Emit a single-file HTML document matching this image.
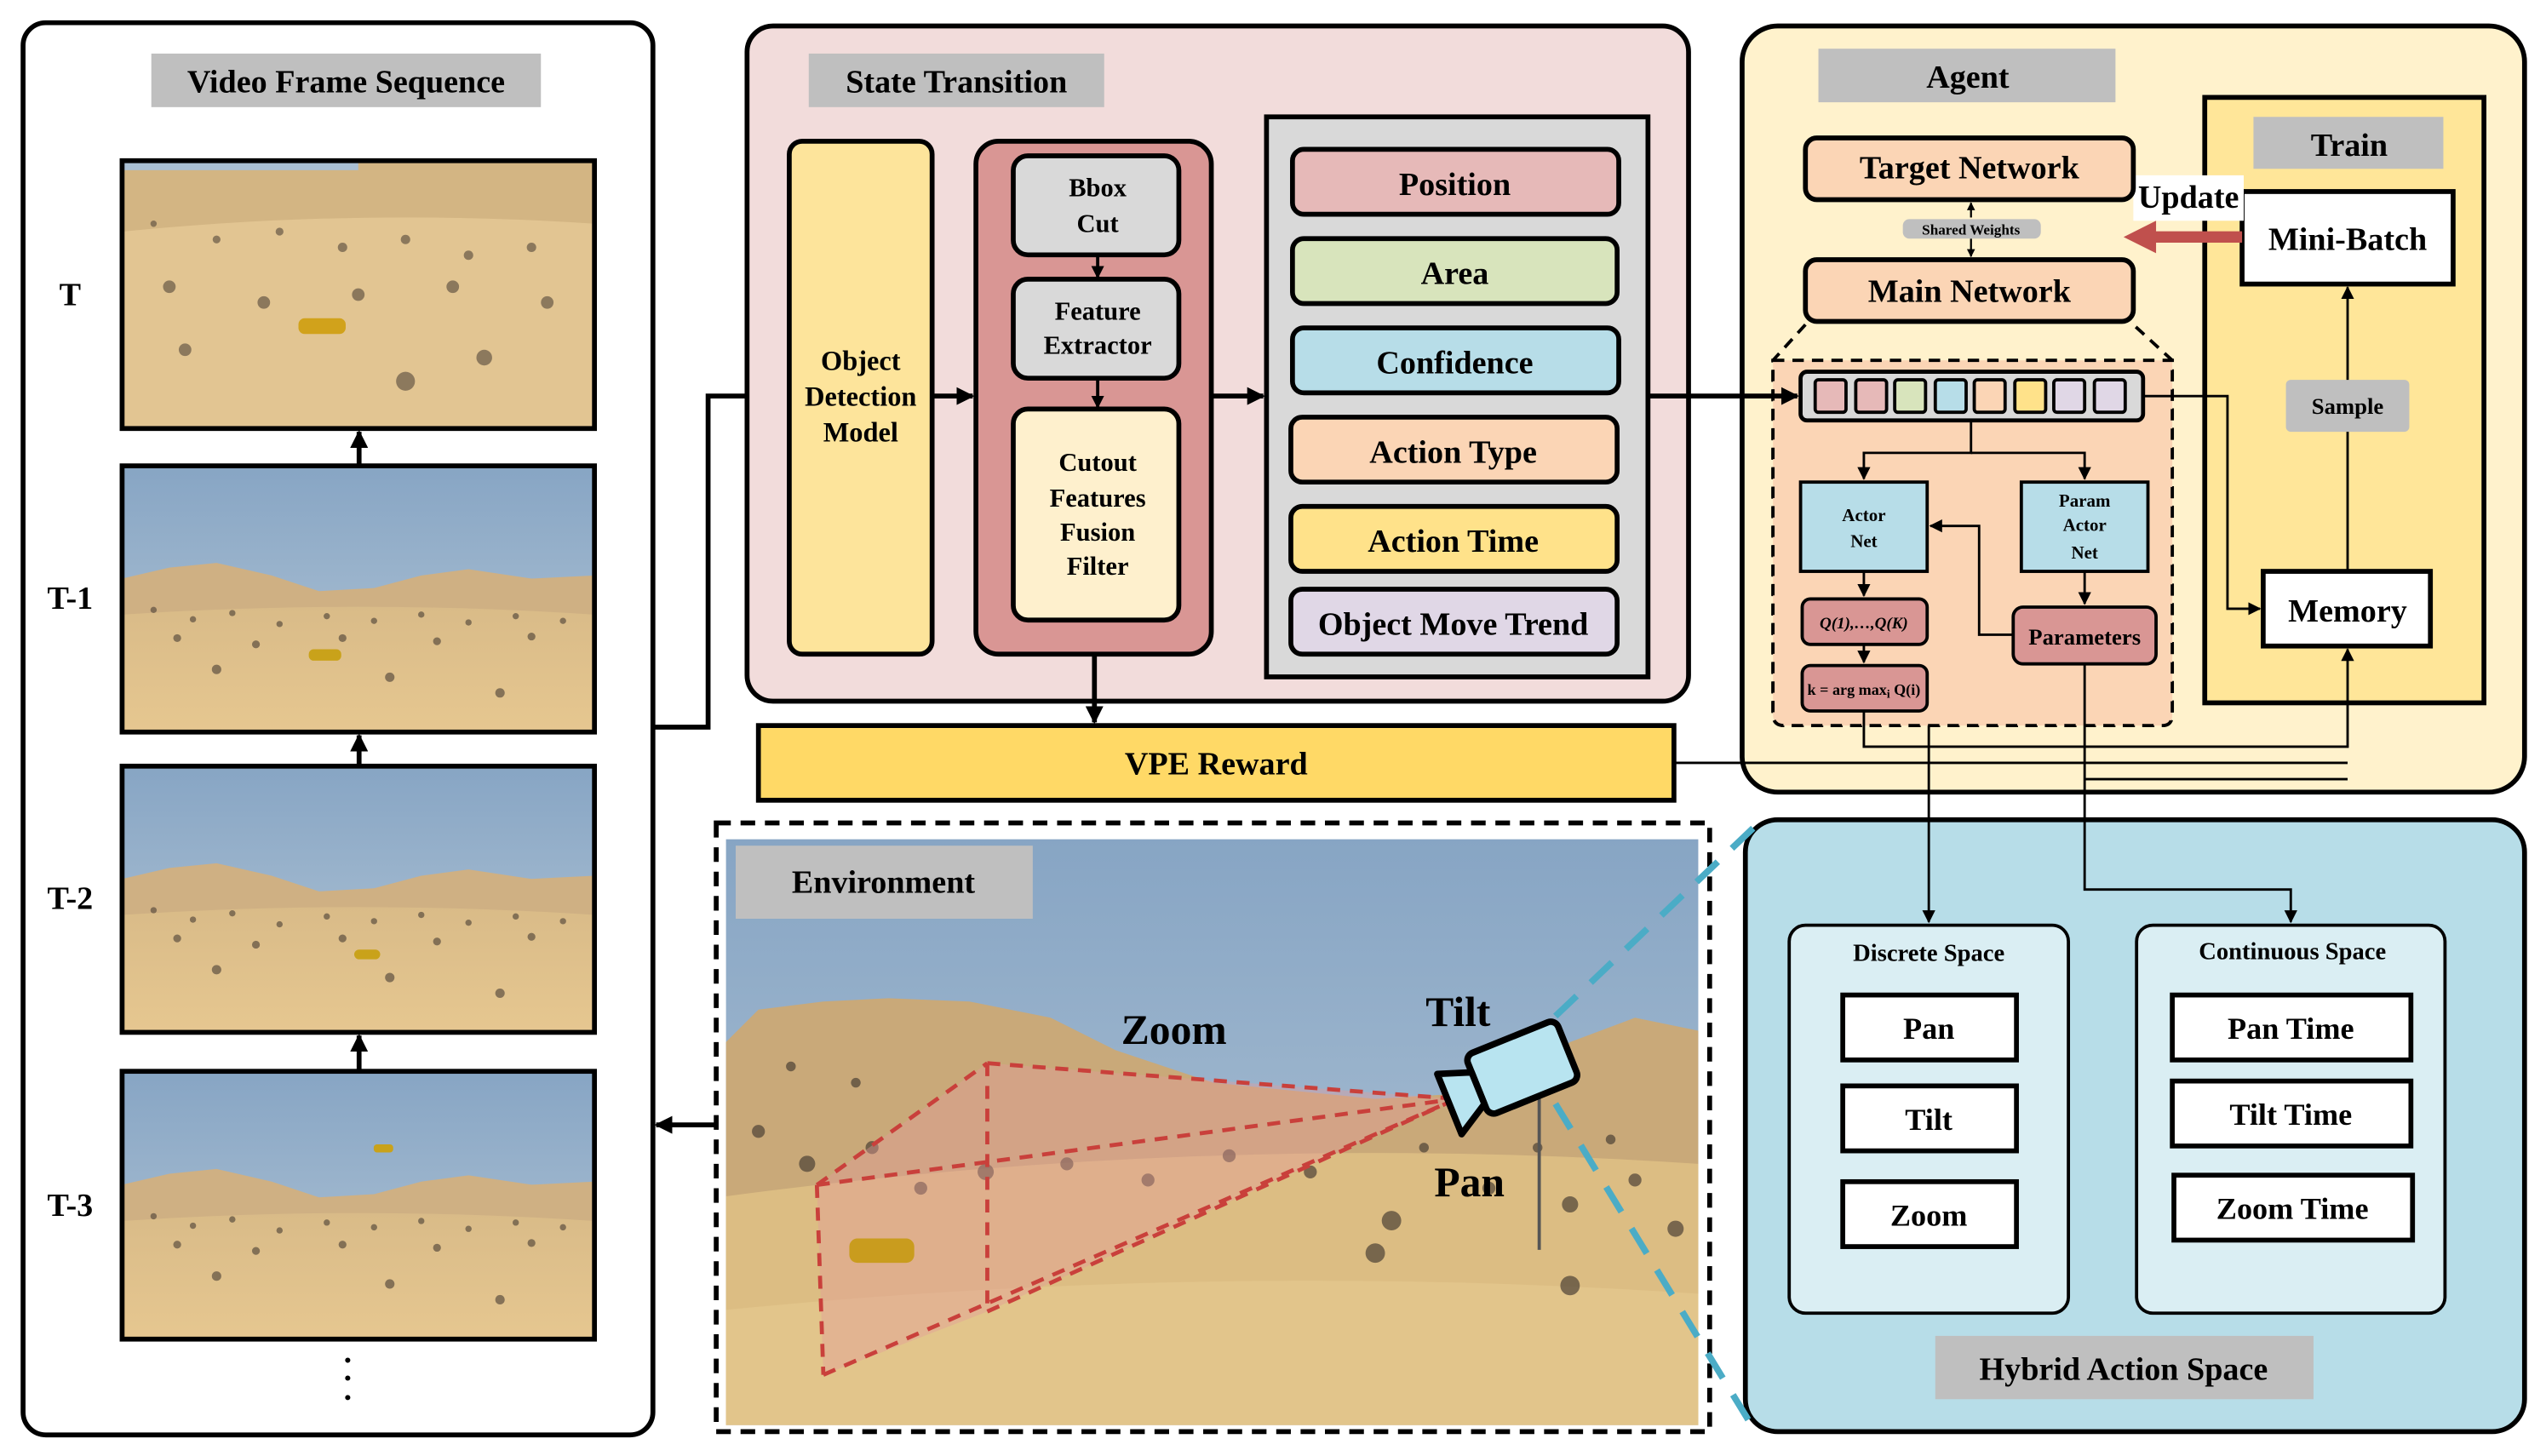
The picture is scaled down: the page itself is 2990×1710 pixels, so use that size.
<!DOCTYPE html>
<html><head><meta charset="utf-8">
<style>
html,body{margin:0;padding:0;background:#fff;}
svg{display:block;}
text{font-family:"Liberation Serif",serif;font-weight:bold;fill:#000;}
</style></head>
<body>
<svg width="2990" height="1710" viewBox="0 0 1568 897" xmlns="http://www.w3.org/2000/svg">
<defs>
<marker id="ah" viewBox="0 0 10 10" refX="9" refY="5" markerWidth="5" markerHeight="5" orient="auto-start-reverse" markerUnits="userSpaceOnUse"><path d="M0,0L10,5L0,10z" fill="#000"/></marker>
<marker id="ab" viewBox="0 0 10 10" refX="9" refY="5" markerWidth="11" markerHeight="11" orient="auto-start-reverse" markerUnits="userSpaceOnUse"><path d="M0,0L10,5L0,10z" fill="#000"/></marker>
<marker id="as" viewBox="0 0 10 10" refX="9" refY="5" markerWidth="8" markerHeight="9" orient="auto-start-reverse" markerUnits="userSpaceOnUse"><path d="M0,0L10,5L0,10z" fill="#000"/></marker>
<linearGradient id="sky" x1="0" y1="0" x2="0" y2="1"><stop offset="0" stop-color="#87a5c4"/><stop offset="1" stop-color="#b3c6d6"/></linearGradient>
<linearGradient id="sand" x1="0" y1="0" x2="0" y2="1"><stop offset="0" stop-color="#d9bb88"/><stop offset="1" stop-color="#e6c790"/></linearGradient>
<symbol id="desert" viewBox="0 0 300 170" preserveAspectRatio="none">
<rect width="300" height="170" fill="url(#sky)"/>
<path d="M0,72 L30,65 L60,62 L95,70 L125,80 L160,78 L190,70 L220,66 L260,72 L300,70 L300,170 L0,170z" fill="#cfb083"/>
<path d="M0,95 Q150,85 300,95 L300,170 L0,170z" fill="url(#sand)"/>
<g fill="#5e5040" opacity="0.7">
<circle cx="20" cy="92" r="2"/><circle cx="45" cy="98" r="2"/><circle cx="70" cy="94" r="2"/><circle cx="100" cy="101" r="2"/><circle cx="130" cy="96" r="2"/><circle cx="160" cy="99" r="2"/><circle cx="190" cy="95" r="2"/><circle cx="220" cy="100" r="2"/><circle cx="250" cy="96" r="2"/><circle cx="280" cy="99" r="2"/><circle cx="35" cy="110" r="2.5"/><circle cx="85" cy="114" r="2.5"/><circle cx="140" cy="110" r="2.5"/><circle cx="200" cy="112" r="2.5"/><circle cx="260" cy="109" r="2.5"/><circle cx="60" cy="130" r="3"/><circle cx="170" cy="135" r="3"/><circle cx="240" cy="145" r="3"/>
</g>
</symbol>
<symbol id="desertT" viewBox="0 0 300 170" preserveAspectRatio="none">
<rect width="300" height="170" fill="#e2c592"/>
<path d="M0,0 L300,0 L300,40 Q150,30 0,45z" fill="#d3b583"/>
<rect width="150" height="6" fill="#a9bfd3"/>
<g fill="#5e5040" opacity="0.65">
<circle cx="20" cy="40" r="2"/><circle cx="60" cy="50" r="2.5"/><circle cx="100" cy="45" r="2.5"/><circle cx="140" cy="55" r="3"/><circle cx="180" cy="50" r="3"/><circle cx="220" cy="60" r="3"/><circle cx="260" cy="55" r="3"/><circle cx="30" cy="80" r="4"/><circle cx="90" cy="90" r="4"/><circle cx="150" cy="85" r="4"/><circle cx="210" cy="80" r="4"/><circle cx="270" cy="90" r="4"/><circle cx="40" cy="120" r="4"/><circle cx="230" cy="125" r="5"/><circle cx="180" cy="140" r="6"/>
</g>
<rect x="112" y="100" width="30" height="10" rx="4" fill="#d1a21b"/>
</symbol>
</defs>

<!-- LEFT PANEL -->
<rect x="14" y="14" width="388" height="870" rx="14" fill="#fff" stroke="#000" stroke-width="3"/>
<rect x="93" y="33" width="240" height="33" fill="#bfbfbf"/>
<text x="213" y="57" font-size="20" text-anchor="middle">Video Frame Sequence</text>
<use href="#desertT" x="75" y="99" width="291" height="165"/>
<rect x="75" y="99" width="291" height="165" fill="none" stroke="#000" stroke-width="3"/>
<use href="#desert" x="75" y="287" width="291" height="164"/>
<rect x="75" y="287" width="291" height="164" fill="none" stroke="#000" stroke-width="3"/>
<use href="#desert" x="75" y="472" width="291" height="164"/>
<rect x="75" y="472" width="291" height="164" fill="none" stroke="#000" stroke-width="3"/>
<use href="#desert" x="75" y="660" width="291" height="165"/>
<rect x="75" y="660" width="291" height="165" fill="none" stroke="#000" stroke-width="3"/>
<rect x="190" y="400" width="20" height="7" rx="3" fill="#c9a21a"/>
<rect x="218" y="585" width="16" height="6" rx="3" fill="#c9a21a"/>
<rect x="230" y="705" width="12" height="5" rx="2" fill="#c9a21a"/>
<text x="43" y="188" font-size="20" text-anchor="middle" font-weight="normal">T</text>
<text x="43" y="375" font-size="20" text-anchor="middle">T-1</text>
<text x="43" y="560" font-size="20" text-anchor="middle">T-2</text>
<text x="43" y="749" font-size="20" text-anchor="middle">T-3</text>
<g stroke="#000" stroke-width="3" fill="none">
<line x1="221" y1="287" x2="221" y2="266" marker-end="url(#ab)"/>
<line x1="221" y1="472" x2="221" y2="453" marker-end="url(#ab)"/>
<line x1="221" y1="660" x2="221" y2="638" marker-end="url(#ab)"/>
</g>
<circle cx="214" cy="838" r="1.6"/><circle cx="214" cy="849" r="1.6"/><circle cx="214" cy="861" r="1.6"/>

<path d="M402,448 H436 V244 H484" stroke="#000" stroke-width="3" fill="none" marker-end="url(#ab)"/>
<line x1="441" y1="693" x2="404" y2="693" stroke="#000" stroke-width="3" marker-end="url(#ab)"/>

<!-- STATE TRANSITION -->
<rect x="460" y="16" width="580" height="416" rx="16" fill="#f2dcdb" stroke="#000" stroke-width="3"/>
<rect x="498" y="33" width="182" height="33" fill="#bfbfbf"/>
<text x="589" y="57" font-size="20" text-anchor="middle">State Transition</text>
<rect x="486" y="87" width="88" height="316" rx="8" fill="#fde49b" stroke="#000" stroke-width="3"/>
<text x="530" y="228" font-size="17" text-anchor="middle">Object</text>
<text x="530" y="250" font-size="17" text-anchor="middle">Detection</text>
<text x="530" y="272" font-size="17" text-anchor="middle">Model</text>
<line x1="574" y1="244" x2="599" y2="244" stroke="#000" stroke-width="3" marker-end="url(#ab)"/>
<rect x="601" y="87" width="145" height="316" rx="14" fill="#d99694" stroke="#000" stroke-width="3"/>
<rect x="624" y="96" width="102" height="61" rx="9" fill="#d9d9d9" stroke="#000" stroke-width="3"/>
<text x="676" y="121" font-size="16" text-anchor="middle">Bbox</text>
<text x="676" y="143" font-size="16" text-anchor="middle">Cut</text>
<rect x="624" y="172" width="102" height="61" rx="9" fill="#d9d9d9" stroke="#000" stroke-width="3"/>
<text x="676" y="197" font-size="16" text-anchor="middle">Feature</text>
<text x="676" y="218" font-size="16" text-anchor="middle">Extractor</text>
<rect x="624" y="252" width="102" height="130" rx="9" fill="#fef0cd" stroke="#000" stroke-width="3"/>
<text x="676" y="290" font-size="16" text-anchor="middle">Cutout</text>
<text x="676" y="312" font-size="16" text-anchor="middle">Features</text>
<text x="676" y="333" font-size="16" text-anchor="middle">Fusion</text>
<text x="676" y="354" font-size="16" text-anchor="middle">Filter</text>
<g stroke="#000" stroke-width="2" fill="none">
<line x1="676" y1="157" x2="676" y2="171" marker-end="url(#as)"/>
<line x1="676" y1="233" x2="676" y2="251" marker-end="url(#as)"/>
</g>
<line x1="746" y1="244" x2="778" y2="244" stroke="#000" stroke-width="3" marker-end="url(#ab)"/>
<line x1="674" y1="403" x2="674" y2="445" stroke="#000" stroke-width="3" marker-end="url(#ab)"/>
<rect x="780" y="72" width="235" height="345" fill="#d9d9d9" stroke="#000" stroke-width="3"/>
<g stroke="#000" stroke-width="3">
<rect x="796" y="92" width="201" height="40" rx="7" fill="#e6b9b8"/>
<rect x="796" y="147" width="200" height="40" rx="7" fill="#d8e4bc"/>
<rect x="796" y="202" width="201" height="40" rx="7" fill="#b7dde8"/>
<rect x="795" y="257" width="201" height="40" rx="7" fill="#fbd5b5"/>
<rect x="795" y="312" width="201" height="40" rx="7" fill="#ffe28a"/>
<rect x="795" y="363" width="201" height="40" rx="7" fill="#e0d7e6"/>
</g>
<text x="896" y="120" font-size="20" text-anchor="middle">Position</text>
<text x="896" y="175" font-size="20" text-anchor="middle">Area</text>
<text x="896" y="230" font-size="20" text-anchor="middle">Confidence</text>
<text x="895" y="285" font-size="20" text-anchor="middle">Action Type</text>
<text x="895" y="340" font-size="20" text-anchor="middle">Action Time</text>
<text x="895" y="391" font-size="20" text-anchor="middle">Object Move Trend</text>

<rect x="467" y="447" width="564" height="46" fill="#ffd966" stroke="#000" stroke-width="3"/>
<text x="749" y="477" font-size="20" text-anchor="middle">VPE Reward</text>

<!-- AGENT -->
<rect x="1073" y="16" width="482" height="472" rx="22" fill="#fff2cc" stroke="#000" stroke-width="3"/>
<rect x="1120" y="30" width="183" height="33" fill="#bfbfbf"/>
<text x="1212" y="54" font-size="20" text-anchor="middle">Agent</text>
<rect x="1358" y="60" width="172" height="373" fill="#ffe699" stroke="#000" stroke-width="3"/>
<rect x="1388" y="72" width="117" height="32" fill="#bfbfbf"/>
<text x="1447" y="96" font-size="20" text-anchor="middle">Train</text>
<rect x="1381" y="118" width="130" height="57" fill="#fff" stroke="#000" stroke-width="3"/>
<text x="1446" y="154" font-size="20" text-anchor="middle">Mini-Batch</text>
<rect x="1314" y="108" width="68" height="28" fill="#fff"/>
<text x="1348" y="128" font-size="20" text-anchor="middle">Update</text>
<line x1="1381" y1="146" x2="1326" y2="146" stroke="#c0504d" stroke-width="7"/>
<path d="M1308,146 L1328,136 L1328,156z" fill="#c0504d"/>
<rect x="1112" y="85" width="202" height="38" rx="7" fill="#fbd5b5" stroke="#000" stroke-width="3"/>
<text x="1213" y="110" font-size="20" text-anchor="middle">Target Network</text>
<rect x="1112" y="160" width="202" height="38" rx="7" fill="#fbd5b5" stroke="#000" stroke-width="3"/>
<text x="1213" y="186" font-size="20" text-anchor="middle">Main Network</text>
<line x1="1214" y1="134" x2="1214" y2="125" stroke="#000" stroke-width="1.2" marker-end="url(#ah)"/>
<line x1="1214" y1="147" x2="1214" y2="158" stroke="#000" stroke-width="1.2" marker-end="url(#ah)"/>
<rect x="1172" y="135" width="85" height="12" rx="4" fill="#bfbfbf"/>
<text x="1214" y="144.5" font-size="9" text-anchor="middle">Shared Weights</text>
<path d="M1112,200 L1092,222 V440 Q1092,447 1099,447 H1332 Q1338,447 1338,440 V222 L1314,200" fill="none" stroke="#000" stroke-width="2" stroke-dasharray="7,5"/>
<path d="M1092,222 H1338 V440 Q1338,447 1332,447 H1099 Q1092,447 1092,440z" fill="#fbd5b5" stroke="#000" stroke-width="2" stroke-dasharray="7,5"/>
<line x1="1015" y1="244" x2="1107" y2="244" stroke="#000" stroke-width="3" marker-end="url(#ab)"/>
<rect x="1109" y="229" width="211" height="30" rx="4" fill="#d9d9d9" stroke="#000" stroke-width="2.5"/>
<g stroke="#000" stroke-width="2">
<rect x="1118" y="234" width="19" height="20" rx="2" fill="#e6b9b8"/>
<rect x="1143" y="234" width="19" height="20" rx="2" fill="#e6b9b8"/>
<rect x="1167" y="234" width="19" height="20" rx="2" fill="#d8e4bc"/>
<rect x="1192" y="234" width="19" height="20" rx="2" fill="#b7dde8"/>
<rect x="1216" y="234" width="19" height="20" rx="2" fill="#fbd5b5"/>
<rect x="1241" y="234" width="19" height="20" rx="2" fill="#ffe28a"/>
<rect x="1265" y="234" width="19" height="20" rx="2" fill="#e0d7e6"/>
<rect x="1290" y="234" width="19" height="20" rx="2" fill="#e0d7e6"/>
</g>
<rect x="1109" y="297" width="78" height="55" fill="#b7dde8" stroke="#000" stroke-width="2"/>
<text x="1148" y="321" font-size="11" text-anchor="middle">Actor</text>
<text x="1148" y="337" font-size="11" text-anchor="middle">Net</text>
<rect x="1245" y="297" width="78" height="55" fill="#b7dde8" stroke="#000" stroke-width="2"/>
<text x="1284" y="312" font-size="11" text-anchor="middle">Param</text>
<text x="1284" y="327" font-size="11" text-anchor="middle">Actor</text>
<text x="1284" y="344" font-size="11" text-anchor="middle">Net</text>
<rect x="1110" y="369" width="77" height="28" rx="5" fill="#d99694" stroke="#000" stroke-width="2"/>
<text x="1148" y="387" font-size="10" text-anchor="middle" font-weight="normal" font-style="italic">Q(1),…,Q(K)</text>
<rect x="1110" y="410" width="77" height="28" rx="5" fill="#d99694" stroke="#000" stroke-width="2"/>
<text x="1148" y="428" font-size="9.5" text-anchor="middle" font-weight="normal">k = arg max<tspan font-size="7" dy="2">i</tspan><tspan dy="-2"> Q(i)</tspan></text>
<rect x="1240" y="374" width="88" height="35" rx="6" fill="#d99694" stroke="#000" stroke-width="2"/>
<text x="1284" y="397" font-size="14" text-anchor="middle">Parameters</text>
<rect x="1408" y="234" width="76" height="32" rx="3" fill="#bfbfbf"/>
<text x="1446" y="255" font-size="14" text-anchor="middle">Sample</text>
<rect x="1394" y="352" width="103" height="46" fill="#fff" stroke="#000" stroke-width="3"/>
<text x="1446" y="383" font-size="20" text-anchor="middle">Memory</text>

<!-- HYBRID ACTION SPACE -->
<rect x="1075" y="505" width="480" height="377" rx="20" fill="#b7dde8" stroke="#000" stroke-width="3"/>
<rect x="1102" y="570" width="172" height="239" rx="10" fill="#daeef3" stroke="#000" stroke-width="2"/>
<rect x="1316" y="570" width="190" height="239" rx="10" fill="#daeef3" stroke="#000" stroke-width="2"/>
<text x="1188" y="592" font-size="15" text-anchor="middle">Discrete Space</text>
<text x="1412" y="591" font-size="15" text-anchor="middle">Continuous Space</text>
<g fill="#fff" stroke="#000" stroke-width="3">
<rect x="1135" y="613" width="107" height="40"/>
<rect x="1135" y="669" width="107" height="40"/>
<rect x="1135" y="728" width="107" height="40"/>
<rect x="1338" y="613" width="147" height="40"/>
<rect x="1338" y="666" width="147" height="40"/>
<rect x="1339" y="724" width="147" height="40"/>
</g>
<text x="1188" y="640" font-size="19" text-anchor="middle">Pan</text>
<text x="1188" y="696" font-size="19" text-anchor="middle">Tilt</text>
<text x="1188" y="755" font-size="19" text-anchor="middle">Zoom</text>
<text x="1411" y="640" font-size="19" text-anchor="middle">Pan Time</text>
<text x="1411" y="693" font-size="19" text-anchor="middle">Tilt Time</text>
<text x="1412" y="751" font-size="19" text-anchor="middle">Zoom Time</text>
<rect x="1192" y="823" width="233" height="39" fill="#bfbfbf"/>
<text x="1308" y="850" font-size="20" text-anchor="middle">Hybrid Action Space</text>

<!-- Agent connectors (drawn on top) -->
<g stroke="#000" stroke-width="1.5" fill="none">
<path d="M1320,244 H1372 V375 H1392" marker-end="url(#as)"/>
<path d="M1214,259 V279 H1148 V295" marker-end="url(#as)"/>
<path d="M1214,279 H1284 V295" marker-end="url(#as)"/>
<line x1="1148" y1="352" x2="1148" y2="367" marker-end="url(#as)"/>
<line x1="1148" y1="397" x2="1148" y2="408" marker-end="url(#as)"/>
<line x1="1284" y1="352" x2="1284" y2="372" marker-end="url(#as)"/>
<path d="M1240,391 H1219 V324 H1189" marker-end="url(#as)"/>
<path d="M1148,438 V460 H1446 V400" marker-end="url(#as)"/>
<path d="M1031,470 H1446"/>
<path d="M1284,409 V548 H1411 V568" marker-end="url(#as)"/>
<path d="M1284,480 H1446"/>
<path d="M1188,447 V568" marker-end="url(#as)"/>
<line x1="1446" y1="352" x2="1446" y2="266"/>
<line x1="1446" y1="234" x2="1446" y2="177" marker-end="url(#as)"/>
</g>

<!-- ENVIRONMENT -->
<svg x="447" y="517" width="599" height="361" viewBox="0 0 599 361" preserveAspectRatio="none">
<rect width="599" height="361" fill="url(#sky)"/>
<path d="M0,125 L20,105 L60,100 L100,98 L150,100 L200,110 L240,130 L300,150 L400,160 L480,155 L520,125 L560,110 L599,118 L599,361 L0,361z" fill="#c9a979"/>
<path d="M0,220 Q300,180 599,200 L599,361 L0,361z" fill="#dcbd83"/>
<path d="M0,290 Q300,260 599,280 L599,361 L0,361z" fill="#e2c58b"/>
<g fill="#4d4236" opacity="0.7">
<circle cx="20" cy="180" r="4"/><circle cx="50" cy="200" r="5"/><circle cx="90" cy="190" r="4"/><circle cx="120" cy="215" r="4"/><circle cx="160" cy="205" r="5"/><circle cx="210" cy="200" r="4"/><circle cx="260" cy="210" r="4"/><circle cx="310" cy="195" r="4"/><circle cx="360" cy="205" r="4"/><circle cx="410" cy="235" r="6"/><circle cx="470" cy="215" r="4"/><circle cx="520" cy="225" r="5"/><circle cx="560" cy="210" r="4"/><circle cx="585" cy="240" r="5"/><circle cx="40" cy="140" r="3"/><circle cx="80" cy="150" r="3"/><circle cx="430" cy="190" r="3"/><circle cx="500" cy="190" r="3"/><circle cx="545" cy="185" r="3"/><circle cx="400" cy="255" r="6"/><circle cx="520" cy="275" r="6"/>
</g>
</svg>
<rect x="453" y="521" width="183" height="45" fill="#bfbfbf"/>
<text x="544" y="550" font-size="20" text-anchor="middle">Environment</text>
<rect x="441" y="507" width="612" height="375" fill="none" stroke="#000" stroke-width="3" stroke-dasharray="9,6"/>
<path d="M503,730 L608,655 L897,677 L608,808 L507,847z" fill="#e39b9b" opacity="0.4"/>
<g fill="none" stroke="#c9403b" stroke-width="2.5" stroke-dasharray="8,6">
<path d="M608,655 L897,677"/>
<path d="M503,730 L608,655"/>
<path d="M503,730 L507,847"/>
<path d="M507,847 L897,677"/>
<path d="M608,655 L608,808"/>
<path d="M503,730 L897,677"/>
<path d="M608,808 L897,677"/>
</g>
<rect x="523" y="763" width="40" height="15" rx="5" fill="#c99c1e"/>
<line x1="948" y1="670" x2="948" y2="770" stroke="#555" stroke-width="2"/>
<g transform="rotate(-22 932 660)">
<rect x="908" y="640" width="60" height="40" rx="5" fill="#b8e4f0" stroke="#000" stroke-width="4"/>
<path d="M908,651 L888,644 L888,684 L908,672z" fill="#b8e4f0" stroke="#000" stroke-width="4" stroke-linejoin="round"/>
</g>
<g fill="none" stroke="#4bacc6" stroke-width="4" stroke-dasharray="18,12">
<line x1="958" y1="626" x2="1080" y2="510"/>
<line x1="958" y1="680" x2="1080" y2="880"/>
</g>
<text x="723" y="643" font-size="26" text-anchor="middle">Zoom</text>
<text x="898" y="632" font-size="26" text-anchor="middle">Tilt</text>
<text x="905" y="737" font-size="26" text-anchor="middle">Pan</text>
</svg>
</body></html>
